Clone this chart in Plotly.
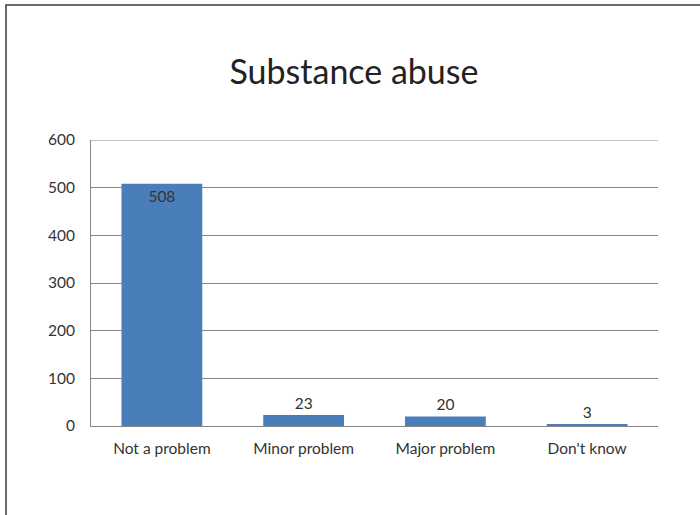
import plotly.graph_objects as go

categories = ["Not a problem", "Minor problem", "Major problem", "Don't know"]
values = [508, 23, 20, 3]
y_ticks = [0, 100, 200, 300, 400, 500, 600]
title_text = "Substance abuse"

L, R, T, B = 91, 42, 140, 89
W, H = 700, 515
pw, ph = W - L - R, H - T - B
FONT = "Lato, Liberation Sans, sans-serif"

def px_x(p):
    return (p - L) / pw

def px_y(p):
    return (H - B - p) / ph

fig = go.Figure()
fig.add_trace(go.Bar(
    x=categories, y=values,
    marker=dict(color="#4a7ebb", line=dict(width=0)),
    text=[str(v) for v in values],
    textposition=["inside", "outside", "outside", "outside"],
    insidetextanchor="end",
    textfont=dict(family=FONT, size=15.5, color="#333333"),
    insidetextfont=dict(color="#333333"),
    outsidetextfont=dict(color="#333333"),
    cliponaxis=False,
))

fig.update_layout(
    width=W, height=H,
    margin=dict(l=L, r=R, t=T, b=B),
    paper_bgcolor="white", plot_bgcolor="white",
    bargap=0.43,
    showlegend=False,
    font=dict(family=FONT, size=15.5, color="#333333"),
    title=dict(text=title_text, x=354 / W, xanchor="center", y=1 - 72 / H, yanchor="middle",
               font=dict(size=34, color="#222222", family=FONT)),
    uniformtext=dict(mode=False),
)
fig.update_xaxes(showgrid=False, showline=True, linecolor="#868686", linewidth=1,
                 ticks="outside", ticklen=8, tickcolor="rgba(0,0,0,0)",
                 tickfont=dict(size=15.5, color="#333333"))
fig.update_yaxes(range=[y_ticks[0], y_ticks[-1]], tickvals=y_ticks, showgrid=True,
                 gridcolor="#868686", gridwidth=1,
                 showline=True, linecolor="#868686", linewidth=1, zeroline=False,
                 ticks="outside", ticklen=12, tickcolor="rgba(0,0,0,0)",
                 tickfont=dict(size=15.5, color="#333333"))

# top gridline (at the axis maximum)
fig.add_shape(type="line", xref="paper", yref="y", x0=0, x1=1,
              y0=y_ticks[-1], y1=y_ticks[-1],
              line=dict(color="#868686", width=1), layer="below")

# chart outer border
fig.add_shape(type="rect", xref="paper", yref="paper",
              x0=px_x(6), x1=px_x(704), y0=px_y(520), y1=px_y(5),
              line=dict(color="#3a3a3a", width=1.5), fillcolor="rgba(0,0,0,0)", layer="above")

fig.write_html("out.html", config={"displayModeBar": False},
               post_script="document.body.style.margin='0';")
